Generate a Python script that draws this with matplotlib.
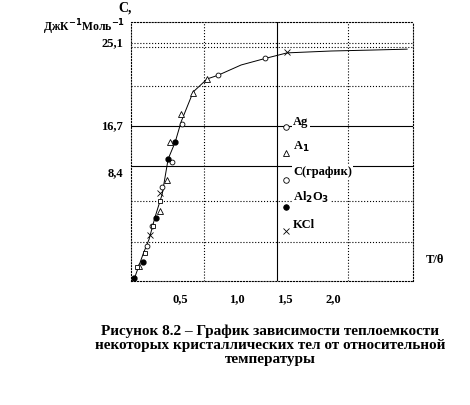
import matplotlib
matplotlib.use('Agg')
import matplotlib.pyplot as plt

plt.rcParams['font.family'] = ['Liberation Serif', 'DejaVu Serif']

# curve T/theta -> C
curve_x = [0.03, 0.12, 0.18, 0.24, 0.31, 0.37, 0.44, 0.50, 0.62, 0.76, 0.87, 1.10, 1.34, 1.56, 2.00, 2.40, 2.76]
curve_y = [0.2, 2.9, 4.5, 6.9, 9.3, 13.1, 14.9, 17.1, 20.3, 21.7, 22.1, 23.2, 23.9, 24.5, 24.7, 24.8, 24.9]

ag_x = [0.157, 0.207, 0.307, 0.407, 0.507, 0.873, 1.34]
ag_y = [3.79, 5.94, 10.05, 12.73, 16.85, 22.1, 23.9]
al_x = [0.083, 0.29, 0.357, 0.39, 0.50, 0.617, 0.757]
al_y = [1.64, 7.55, 10.8, 14.9, 17.9, 20.2, 21.7]
c_x = [0.063, 0.14, 0.217, 0.29]
c_y = [1.5, 3.0, 5.9, 8.6]
al2o3_x = [0.033, 0.117, 0.25, 0.373, 0.44]
al2o3_y = [0.3, 2.05, 6.8, 13.1, 14.9]
kcl_x = [0.19, 0.29, 1.557]
kcl_y = [4.9, 9.4, 24.6]

legend_labels = ['Ag', 'A$_\\mathbf{1}$', 'C(график)', 'Al$_\\mathbf{2}$O$_\\mathbf{3}$', 'KCl']

fig = plt.figure(figsize=(4.7, 4.06), dpi=100)
ax = fig.add_axes([0.279, 0.3054, 0.6, 0.6376])
ax.set_xlim(0, 2.82)
ax.set_ylim(0, 27.8)

for x, ls in [(0.73, ':'), (1.46, '-'), (2.17, ':')]:
    ax.axvline(x, color='black', ls=ls, lw=0.8)
for y, ls in [(25.1, ':'), (25.6, ':'), (20.9, ':'), (16.7, '-'), (12.4, '-'), (8.6, ':'), (4.2, ':')]:
    ax.axhline(y, color='black', ls=ls, lw=0.8)
for s in ax.spines.values():
    s.set_linestyle(':')
ax.set_xticks([])
ax.set_yticks([])

ax.plot(curve_x, curve_y, color='black', lw=0.7)
ax.plot(ag_x, ag_y, 'o', ms=3.5, mfc='white', mec='black', mew=0.6)
ax.plot(al_x, al_y, '^', ms=5, mfc='white', mec='black', mew=0.6)
ax.plot(c_x, c_y, 's', ms=3.5, mfc='white', mec='black', mew=0.6)
ax.plot(al2o3_x, al2o3_y, 'o', ms=3.5, color='black')
ax.plot(kcl_x, kcl_y, 'x', ms=5, color='black', mew=0.6)

# legend drawn by hand
leg_marks = [('o', 'white'), ('^', 'white'), ('o', 'white'), ('o', 'black'), ('x', 'black')]
leg_my = [16.5, 13.8, 10.9, 7.9, 5.4]
leg_ty = [17.2, 14.5, 11.8, 9.1, 6.1]
for (m, fc), my, ty, lab in zip(leg_marks, leg_my, leg_ty, legend_labels):
    ax.plot([1.55], [my], m, ms=4, mfc=fc, mec='black', color='black', mew=0.6, zorder=5)
    ax.text(1.62, ty, lab, fontsize=9, fontweight='bold', va='center',
            bbox=dict(facecolor='white', edgecolor='none', pad=1), zorder=4)

for x, lab in [(0.49, '0,5'), (1.06, '1,0'), (1.54, '1,5'), (2.02, '2,0')]:
    ax.text(x, -1.8, lab, fontsize=9, fontweight='bold', ha='center', va='center')
for y, lab in [(25.6, '25,1'), (16.7, '16,7'), (11.7, '8,4')]:
    ax.text(-0.08, y, lab, fontsize=9, fontweight='bold', ha='right', va='center')
ax.text(2.95, 2.4, 'T/θ', fontsize=9, fontweight='bold', ha='left', va='center')
ax.text(-0.13, 29.4, 'C,', fontsize=10, fontweight='bold', ha='left', va='center')
ax.text(-0.06, 27.4, 'ДжК$^{\\mathbf{-1}}$Моль$^{\\mathbf{-1}}$', fontsize=8.5,
        fontweight='bold', ha='right', va='center')

fig.text(0.575, 0.15, 'Рисунок 8.2 – График зависимости теплоемкости\n'
         'некоторых кристаллических тел от относительной\nтемпературы',
         fontsize=11, fontweight='bold', ha='center', va='center', linespacing=1.1)

fig.savefig('out.png', dpi=100)
